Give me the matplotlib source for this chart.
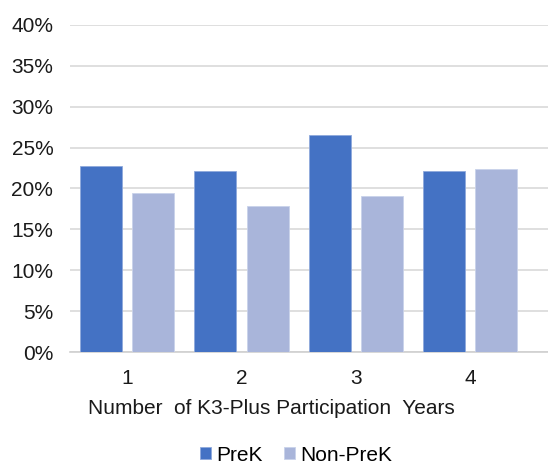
import numpy as np
import matplotlib
matplotlib.use('Agg')
import matplotlib.pyplot as plt

plt.rcParams['font.family'] = ['Liberation Sans', 'DejaVu Sans']

# Data
categories = ['1', '2', '3', '4']
prek = [22.7, 22.2, 26.5, 22.1]
non_prek = [19.5, 17.8, 19.1, 22.4]
y_ticks = [0, 5, 10, 15, 20, 25, 30, 35, 40]

c_prek = '#4472C4'
c_non = '#A9B5DA'
fs = 15

fig = plt.figure(figsize=(5.48, 4.65), dpi=100)
ax = fig.add_axes([70 / 548, 113 / 465, 1 - 70 / 548, 327 / 465])

x = np.arange(len(categories))
w = 0.367
off = 0.228
ax.bar(x - off, prek, width=w, color=c_prek, edgecolor='#8FA9DC', linewidth=0.6,
       label='PreK', zorder=3)
ax.bar(x + off, non_prek, width=w, color=c_non, edgecolor='#C9D2EA', linewidth=0.6,
       label='Non-PreK', zorder=3)

ax.set_xlim(-0.5, 3.68)
ax.set_ylim(0, 40)
ax.set_yticks(y_ticks)
ax.set_yticklabels([f'{t}%' for t in y_ticks], fontsize=fs, color='#1a1a1a')
ax.set_xticks(x)
ax.set_xticklabels(categories, fontsize=fs, color='#1a1a1a')
ax.tick_params(axis='both', length=0)
ax.tick_params(axis='y', pad=12)
ax.tick_params(axis='x', pad=12)

ax.grid(axis='y', color='#D9D9D9', linewidth=1.2, zorder=0)
for s in ['top', 'right', 'left']:
    ax.spines[s].set_visible(False)
ax.spines['bottom'].set_color('#D0D0D0')
ax.spines['bottom'].set_linewidth(1.2)

fig.text(271.5 / 548, 1 - 408 / 465, 'Number  of K3-Plus Participation  Years',
         ha='center', va='center', fontsize=fs, color='#1a1a1a')

handles, labels = ax.get_legend_handles_labels()
fig.legend(handles, labels, loc='center', bbox_to_anchor=(296 / 548, 1 - 455 / 465),
           ncol=2, frameon=False, fontsize=fs, handlelength=0.55, handleheight=0.55,
           handletextpad=0.25, columnspacing=1.0, borderaxespad=0, borderpad=0)

fig.savefig('out.png', dpi=100, facecolor='white')
